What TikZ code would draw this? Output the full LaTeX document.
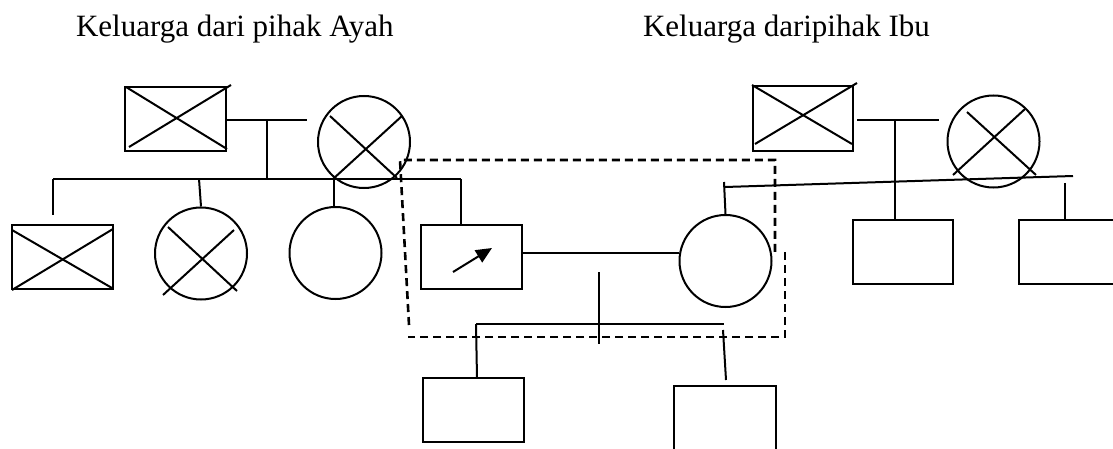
\documentclass[tikz,border=0pt]{standalone}
\usepackage{fontspec}
\setmainfont{Liberation Serif}
\usetikzlibrary{arrows.meta}
\begin{document}
\begin{tikzpicture}[x=1pt,y=-1pt,
  every path/.style={line width=2pt},
  male/.style={draw,rectangle,minimum width=101pt,minimum height=64pt,inner sep=0pt,line width=2pt},
  female/.style={draw,circle,minimum size=92pt,inner sep=0pt,line width=2pt},
  lbl/.style={anchor=base west,inner sep=0pt,font=\fontsize{31}{36}\selectfont},
  boundary/.style={dash pattern=on 8pt off 5pt,line width=2.6pt}]
\useasboundingbox (0,0) rectangle (1113,449);
% titles
\node[lbl] (tA) at (75,37) {Keluarga dari pihak Ayah};
\node[lbl] (tI) at (642,37) {Keluarga daripihak Ibu};
% paternal side
\node[male] (pgf) at (175.5,119) {};
\node[female] (pgm) at (364,142) {};
\node[male] (s1) at (62,257) {};
\node[female] (s2) at (201,253.5) {};
\node[female] (s3) at (335.5,253) {};
% core family
\node[male] (prob) at (471.5,257) {};
\node[female] (mom) at (725.5,261) {};
\node[male] (c1) at (473.5,410) {};
\node[minimum width=100pt,minimum height=62pt,inner sep=0pt] (c2) at (725,418) {};
% maternal side
\node[male,minimum width=100pt,minimum height=65pt] (mgf) at (803,118.5) {};
\node[female] (mgm) at (993.5,141.5) {};
\node[male,minimum width=100pt] (bA) at (903,252) {};
\node[minimum width=100pt,minimum height=64pt,inner sep=0pt] (bB) at (1069,252) {};
% crosses (deceased)
\draw (126,87) -- (227,149); \draw (129,147) -- (231,85);
\draw (330,116) -- (397,178); \draw (333,179) -- (402,116);
\draw (12,230) -- (112,288); \draw (12,290) -- (113,229);
\draw (168,227) -- (237,291); \draw (163,295) -- (234,230);
\draw (752,85) -- (852,144); \draw (755,144) -- (857,83);
\draw (967,112) -- (1036,175); \draw (953,175) -- (1025,109);
% open boxes
\draw (c2.south west) -- (c2.north west) -- (c2.north east) -- (c2.south east);
\draw (1114,220) -- (1019,220) -- (1019,284) -- (1114,284);
% proband arrow
\draw[-{Triangle[length=16pt,width=14pt]}] (453,272) -- (492,248);
% paternal connectors
\coordinate (pm) at (307,120);
\coordinate (pd) at (267,120);
\coordinate (sl) at (53,179);
\coordinate (sr) at (461,179);
\draw (pgf.east |- pm) -- (pm);
\draw (pd) -- (pd |- sl);
\draw (sl) -- (sr);
\draw (sl) -- (53,215);
\draw (199,179) -- (s2.north);
\draw (334,179) -- (334,208);
\draw (sr) -- (461,225);
% core connectors
\draw (prob.east |- 0,253) -- (mom.west |- 0,253);
\coordinate (dt) at (599,272);
\coordinate (db) at (599,344);
\draw (dt) -- (db);
\coordinate (cl) at (476,324);
\coordinate (cr) at (724,324);
\draw (cl) -- (cr);
\draw (cl) -- (477,378);
\draw (723,330) -- (726,380);
% mother to her parents
\draw (724,182) -- (mom.north);
\coordinate (ml) at (725,187);
\coordinate (mr) at (1073,176);
\draw (ml) -- (mr);
% maternal connectors
\coordinate (mm) at (939,120);
\coordinate (mv) at (895,120);
\draw (857,120) -- (mm);
\draw (mv) -- (mv |- bA.north);
\draw (1065,183) -- (1065,220);
% boundary around nuclear family
\draw[boundary] (409,325) -- (400,160) -- (775,160) -- (775,253);
\draw[boundary] (785,252) -- (785,337) -- (408,337);
\end{tikzpicture}
\end{document}
